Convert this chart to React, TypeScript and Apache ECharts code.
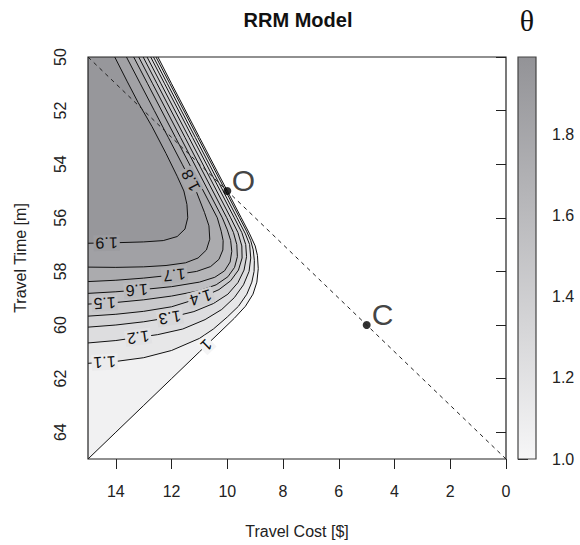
import React, { useEffect, useRef } from "react";
import * as echarts from "echarts";

const FONT = '"Liberation Sans", Arial, Helvetica, sans-serif';
const SERIF = '"Liberation Serif", "DejaVu Serif", serif';

// axes
const costRange = [0, 15];
const timeRange = [50, 65];
const thetaRange = [1.0, 1.99];
const costTicks = [0, 2, 4, 6, 8, 10, 12, 14];
const timeTicks = [50, 52, 54, 56, 58, 60, 62, 64];
const thetaTicks = [1.0, 1.2, 1.4, 1.6, 1.8];

// contour levels of theta and their lines [travel cost, travel time]
const levels = [1.0, 1.1, 1.2, 1.3, 1.4, 1.5, 1.6, 1.7, 1.8, 1.9];

const contour10 = [
  [15, 65], [14, 64], [13, 63], [12, 62], [11, 61], [10.3, 60.3], [9.75, 59.75], [9.35, 59.3],
  [9.08, 58.85], [8.94, 58.4], [8.89, 57.9], [8.92, 57.4], [9.0, 57.05], [9.2, 56.6], [9.5, 56.0],
  [10, 55], [11, 53], [12, 51], [12.49, 50],
];
const contour11 = [
  [15, 61.43], [14, 61.36], [13, 61.22], [12, 60.95], [11, 60.5], [10.5, 60.15], [10.0, 59.7],
  [9.6, 59.3], [9.3, 58.85], [9.12, 58.4], [9.04, 58.0], [9.03, 57.6], [9.07, 57.2], [9.16, 56.85],
  [9.31, 56.5], [9.56, 56.0], [10.06, 55], [11.06, 53], [12.06, 51], [12.56, 50],
];
const contour12 = [
  [15, 60.67], [14, 60.58], [13.2, 60.46], [12.5, 60.36], [11.6, 60.15], [10.8, 59.8], [10.2, 59.42],
  [9.75, 58.98], [9.42, 58.5], [9.22, 58.0], [9.16, 57.5], [9.2, 57.0], [9.35, 56.6], [9.65, 56.0],
  [10.15, 55], [11.15, 53], [12.15, 51], [12.65, 50],
];
const contour13 = [
  [15, 60.08], [14, 60.0], [13, 59.88], [12.06, 59.72], [11.2, 59.5], [10.5, 59.2], [9.98, 58.85],
  [9.62, 58.42], [9.4, 57.95], [9.31, 57.45], [9.34, 57.0], [9.48, 56.55], [9.75, 56.0],
  [10.25, 55], [11.25, 53], [12.25, 51], [12.75, 50],
];
const contour14 = [
  [15, 59.67], [14, 59.6], [13, 59.49], [12, 59.32], [10.95, 58.98], [10.3, 58.68], [9.88, 58.35],
  [9.6, 57.95], [9.47, 57.5], [9.48, 57.05], [9.62, 56.55], [9.88, 56.0], [10.38, 55], [11.38, 53],
  [12.38, 51], [12.88, 50],
];
const contour15 = [
  [15, 59.22], [14, 59.16], [13, 59.06], [12, 58.92], [11, 58.72], [10.4, 58.5], [9.98, 58.2],
  [9.74, 57.85], [9.64, 57.45], [9.66, 57.0], [9.78, 56.55], [10.02, 56.0], [10.52, 55],
  [11.52, 53], [12.52, 51], [13.02, 50],
];
const contour16 = [
  [15, 58.82], [14, 58.76], [13.25, 58.7], [12, 58.57], [11, 58.4], [10.45, 58.22], [10.1, 57.98],
  [9.9, 57.65], [9.84, 57.25], [9.88, 56.85], [10.0, 56.45], [10.18, 56.0], [10.68, 55],
  [11.68, 53], [12.68, 51], [13.18, 50],
];
const contour17 = [
  [15, 58.38], [14, 58.33], [13, 58.25], [11.9, 58.13], [11.1, 58.0], [10.6, 57.82], [10.3, 57.55],
  [10.16, 57.2], [10.15, 56.85], [10.22, 56.5], [10.36, 56.0], [10.86, 55], [11.86, 53],
  [12.86, 51], [13.36, 50],
];
const contour18 = [
  [15, 57.84], [14, 57.85], [13, 57.83], [12.2, 57.78], [11.5, 57.68], [11.05, 57.5], [10.75, 57.2],
  [10.63, 56.8], [10.66, 56.3], [10.82, 55.8], [11.12, 55], [11.62, 54], [12.12, 53], [12.62, 52],
  [13.12, 51], [13.62, 50],
];
const contour19 = [
  [15, 56.95], [14, 56.93], [13, 56.9], [12.3, 56.85], [11.8, 56.7], [11.52, 56.42], [11.42, 56.0],
  [11.45, 55.5], [11.56, 55.0], [11.8, 54.45], [12.2, 53.6], [12.7, 52.6], [13.2, 51.7],
  [13.6, 50.9], [14.04, 50],
];
const contours = [contour10, contour11, contour12, contour13, contour14, contour15, contour16, contour17, contour18, contour19];

// contour labels
const labelLevels = [1.9, 1.8, 1.7, 1.6, 1.5, 1.4, 1.3, 1.2, 1.1, 1];
const labelCost = [14.33, 11.3, 11.9, 13.25, 14.4, 10.95, 12.06, 13.2, 14.4, 10.75];
const labelTime = [56.94, 54.6, 58.13, 58.7, 59.2, 58.98, 59.72, 60.46, 61.4, 60.75];

// alternatives and the dashed line through them
const pointNames = ["O", "C"];
const pointCost = [10, 5];
const pointTime = [55, 60];
const dashCost = [15, 0];
const dashTime = [50, 65];

const lowGray = [246, 246, 247];
const highGray = [147, 147, 151];

function shade(v: number): string {
  const f = Math.min(1, Math.max(0, (v - thetaRange[0]) / (thetaRange[1] - thetaRange[0])));
  const c = lowGray.map((lo, i) => Math.round(lo + (highGray[i] - lo) * f));
  return `rgb(${c[0]},${c[1]},${c[2]})`;
}

function nearest(pts: number[][], q: number[]) {
  let best = { d: Infinity, p: q, dir: [1, 0] };
  for (let i = 0; i < pts.length - 1; i++) {
    const a = pts[i];
    const b = pts[i + 1];
    const vx = b[0] - a[0];
    const vy = b[1] - a[1];
    const L2 = vx * vx + vy * vy || 1;
    let t = ((q[0] - a[0]) * vx + (q[1] - a[1]) * vy) / L2;
    t = Math.max(0, Math.min(1, t));
    const p = [a[0] + t * vx, a[1] + t * vy];
    const d = Math.hypot(q[0] - p[0], q[1] - p[1]);
    if (d < best.d) best = { d, p, dir: [vx, vy] };
  }
  return best;
}

export default function App() {
  const ref = useRef<HTMLDivElement>(null);

  useEffect(() => {
    const chart = echarts.init(ref.current as HTMLDivElement, undefined, { renderer: "svg" });

    const renderContours = (_params: any, api: any) => {
      const px = (p: number[]) => api.coord(p);
      const corner = api.coord([costRange[1], timeRange[0]]);
      const children: any[] = [];
      contours.forEach((line, i) => {
        children.push({
          type: "polygon",
          silent: true,
          shape: { points: [...line.map(px), corner] },
          style: { fill: shade(levels[i] + 0.05), stroke: null },
        });
      });
      contours.forEach((line) => {
        children.push({
          type: "polyline",
          silent: true,
          shape: { points: line.map(px) },
          style: { stroke: "#111", lineWidth: 1, fill: null },
        });
      });
      labelLevels.forEach((lv, k) => {
        const idx = levels.findIndex((l) => Math.abs(l - lv) < 1e-9);
        const pts = contours[idx].map(px);
        const q = px([labelCost[k], labelTime[k]]);
        const { p, dir } = nearest(pts, q);
        let dx = dir[0];
        let dy = dir[1];
        if (dx < 0) {
          dx = -dx;
          dy = -dy;
        }
        const rot = Math.atan2(dy, -dx);
        children.push({
          type: "text",
          silent: true,
          x: p[0],
          y: p[1],
          rotation: rot,
          style: {
            text: String(lv),
            x: 0,
            y: 0,
            align: "center",
            verticalAlign: "middle",
            fontSize: 16,
            fontFamily: FONT,
            fill: "#111",
            backgroundColor: lv === 1 ? shade(1.02) : shade(lv),
            padding: [0, 2],
          },
        });
      });
      return { type: "group", children };
    };

    const renderFrame = (_params: any, api: any) => {
      const a = api.coord([costRange[1], timeRange[0]]);
      const b = api.coord([costRange[0], timeRange[1]]);
      return {
        type: "rect",
        silent: true,
        shape: { x: a[0], y: a[1], width: b[0] - a[0], height: b[1] - a[1] },
        style: { fill: null, stroke: "#222", lineWidth: 1.2 },
      };
    };

    const renderKey = (_params: any, api: any) => {
      const a = api.coord([0, thetaRange[1]]);
      const b = api.coord([1, thetaRange[0]]);
      return {
        type: "rect",
        silent: true,
        shape: { x: a[0], y: a[1], width: b[0] - a[0], height: b[1] - a[1] },
        style: {
          fill: new echarts.graphic.LinearGradient(0, 0, 0, 1, [
            { offset: 0, color: shade(thetaRange[1]) },
            { offset: 1, color: shade(thetaRange[0]) },
          ]),
          stroke: "#444",
          lineWidth: 1.2,
        },
      };
    };

    const axisText = { fontSize: 16, fontFamily: FONT, color: "#222" };

    const option: any = {
      animation: false,
      backgroundColor: "#fff",
      grid: [
        { left: 88, top: 57, width: 418, height: 402, show: false },
        { left: 518, top: 57, width: 18, height: 402, show: false },
      ],
      graphic: [
        {
          type: "text",
          x: 298,
          y: 20,
          style: {
            text: "RRM Model",
            fontSize: 20,
            fontWeight: "bold",
            fontFamily: FONT,
            fill: "#111",
            align: "center",
            verticalAlign: "middle",
          },
        },
        {
          type: "text",
          x: 527,
          y: 20,
          style: {
            text: "θ",
            fontSize: 30,
            fontFamily: SERIF,
            fill: "#111",
            align: "center",
            verticalAlign: "middle",
          },
        },
      ],
      xAxis: [
        {
          gridIndex: 0,
          type: "value",
          min: costRange[0],
          max: costRange[1],
          inverse: true,
          interval: 2,
          axisLine: { show: false },
          axisTick: { show: true, length: 10, customValues: costTicks, lineStyle: { color: "#222" } },
          axisLabel: { show: true, customValues: costTicks, margin: 24, ...axisText },
          splitLine: { show: false },
          name: "Travel Cost [$]",
          nameLocation: "middle",
          nameGap: 64,
          nameTextStyle: { fontSize: 16, fontFamily: FONT, color: "#222" },
        },
        { gridIndex: 1, type: "value", min: 0, max: 1, show: false },
      ],
      yAxis: [
        {
          gridIndex: 0,
          type: "value",
          min: timeRange[0],
          max: timeRange[1],
          inverse: true,
          interval: 2,
          axisLine: { show: false },
          axisTick: { show: true, length: 10, customValues: timeTicks, lineStyle: { color: "#222" } },
          axisLabel: { show: true, customValues: timeTicks, rotate: 90, margin: 20, ...axisText },
          splitLine: { show: false },
          name: "Travel Time [m]",
          nameLocation: "middle",
          nameGap: 60,
          nameRotate: 90,
          nameTextStyle: { fontSize: 16, fontFamily: FONT, color: "#222" },
        },
        {
          gridIndex: 1,
          type: "value",
          position: "right",
          min: thetaRange[0],
          max: thetaRange[1],
          interval: 0.2,
          axisLine: { show: false },
          axisTick: { show: true, length: 10, customValues: thetaTicks, lineStyle: { color: "#222" } },
          axisLabel: {
            show: true,
            customValues: thetaTicks,
            margin: 16,
            formatter: (v: number) => v.toFixed(1),
            ...axisText,
          },
          splitLine: { show: false },
        },
      ],
      series: [
        {
          type: "custom",
          xAxisIndex: 0,
          yAxisIndex: 0,
          renderItem: renderContours,
          data: [[costRange[1], timeRange[0]]],
          clip: false,
          silent: true,
        },
        {
          type: "line",
          xAxisIndex: 0,
          yAxisIndex: 0,
          data: dashCost.map((c, i) => [c, dashTime[i]]),
          symbol: "none",
          lineStyle: { color: "#222", width: 1, type: [4, 4] },
          silent: true,
        },
        {
          type: "scatter",
          xAxisIndex: 0,
          yAxisIndex: 0,
          data: pointCost.map((c, i) => ({ value: [c, pointTime[i]], name: pointNames[i] })),
          symbolSize: 8,
          itemStyle: { color: "#000" },
          label: {
            show: true,
            formatter: "{b}",
            position: "inside",
            offset: [16, -11],
            fontSize: 30,
            fontFamily: FONT,
            color: "#111",
          },
          silent: true,
        },
        {
          type: "custom",
          xAxisIndex: 0,
          yAxisIndex: 0,
          renderItem: renderFrame,
          data: [[costRange[1], timeRange[0]]],
          clip: false,
          silent: true,
        },
        {
          type: "custom",
          xAxisIndex: 1,
          yAxisIndex: 1,
          renderItem: renderKey,
          data: [[0, thetaRange[0]]],
          clip: false,
          silent: true,
        },
      ],
    };

    chart.setOption(option);
    return () => chart.dispose();
  }, []);

  return (
    <div
      ref={ref}
      style={{ position: "absolute", left: 0, top: 0, width: 580, height: 545 }}
    />
  );
}
